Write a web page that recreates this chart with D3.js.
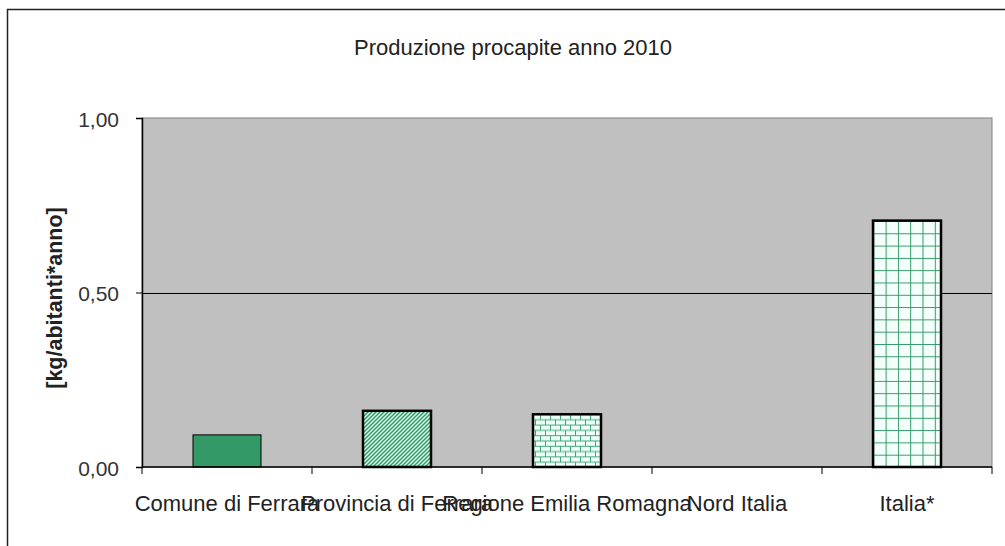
<!DOCTYPE html>
<html>
<head>
<meta charset="utf-8">
<script src="https://cdn.jsdelivr.net/npm/d3@7"></script>
<style>
  body { margin: 0; background: #fff; }
  svg { display: block; font-family: "Liberation Sans", Arial, sans-serif; }
</style>
</head>
<body>
<div id="chart"></div>
<script>
// Chart values
const categories = ["Comune di Ferrara", "Provincia di Ferrara", "Regione Emilia Romagna", "Nord Italia", "Italia*"];
const values = [0.092, 0.161, 0.151, null, 0.706];
const yTicks = [0, 0.5, 1];
const titleText = "Produzione procapite anno 2010";
const yLabel = "[kg/abitanti*anno]";

const W = 1005, H = 546;
const plot = { left: 142, right: 992, top: 118, bottom: 467 };
const green = "#339966";

const svg = d3.select("#chart").append("svg")
  .attr("width", W)
  .attr("height", H);

// Fill patterns for the bars
const defs = svg.append("defs");

const diag = defs.append("pattern")
  .attr("id", "diag")
  .attr("patternUnits", "userSpaceOnUse")
  .attr("width", 4).attr("height", 4);
diag.append("rect").attr("width", 4).attr("height", 4).attr("fill", "#dcfff0");
diag.append("path")
  .attr("d", "M-1,1L1,-1M0,4L4,0M3,5L5,3")
  .attr("stroke", green).attr("stroke-width", 1.5);

const brick = defs.append("pattern")
  .attr("id", "brick")
  .attr("patternUnits", "userSpaceOnUse")
  .attr("width", 10).attr("height", 10.6)
  .attr("y", plot.bottom);
brick.append("rect").attr("width", 10).attr("height", 10.6).attr("fill", "#eefff7");
brick.append("path")
  .attr("d", "M0,0.5H10M0,5.8H10M0.5,0V5.3M5.5,5.3V10.6")
  .attr("stroke", "#3fa577").attr("stroke-width", 1).attr("fill", "none");

const grid = defs.append("pattern")
  .attr("id", "grid")
  .attr("patternUnits", "userSpaceOnUse")
  .attr("width", 12.3).attr("height", 12.3)
  .attr("y", plot.bottom);
grid.append("rect").attr("width", 12.3).attr("height", 12.3).attr("fill", "#f4fffb");
grid.append("path")
  .attr("d", "M0,0.5H12.3M0.5,0V12.3")
  .attr("stroke", green).attr("stroke-width", 1).attr("fill", "none");

const barStyles = [
  { fill: green, width: 1 },
  { fill: "url(#diag)", width: 2.5 },
  { fill: "url(#brick)", width: 2.5 },
  { fill: green, width: 1 },
  { fill: "url(#grid)", width: 2.5 }
];

// Outer chart border
svg.append("rect")
  .attr("x", 7.5).attr("y", 9.5)
  .attr("width", 1200).attr("height", 800)
  .attr("fill", "none")
  .attr("stroke", "#222")
  .attr("stroke-width", 1.5);

// Scales
const x = d3.scaleBand().domain(categories).range([plot.left, plot.right]).padding(0);
const y = d3.scaleLinear().domain([0, 1]).range([plot.bottom, plot.top]);

const locale = d3.formatLocale({ decimal: ",", thousands: ".", grouping: [3], currency: ["", "€"] });
const fmt = locale.format(".2f");

// Plot area
svg.append("rect")
  .attr("x", plot.left).attr("y", plot.top)
  .attr("width", plot.right - plot.left)
  .attr("height", plot.bottom - plot.top)
  .attr("fill", "#c0c0c0")
  .attr("stroke", "#808080")
  .attr("stroke-width", 1);

// Gridlines
svg.append("g")
  .selectAll("line")
  .data(yTicks.filter(d => d > 0 && d < 1))
  .join("line")
  .attr("x1", plot.left).attr("x2", plot.right)
  .attr("y1", d => Math.round(y(d)) + 0.5).attr("y2", d => Math.round(y(d)) + 0.5)
  .attr("stroke", "#000")
  .attr("stroke-width", 1);

// Bars
const barW = x.bandwidth() / 2.5;
svg.append("g")
  .selectAll("rect")
  .data(categories.map((c, i) => ({ c, v: values[i], i })).filter(d => d.v != null))
  .join("rect")
  .attr("x", d => x(d.c) + (x.bandwidth() - barW) / 2)
  .attr("y", d => y(d.v))
  .attr("width", barW)
  .attr("height", d => y(0) - y(d.v))
  .attr("fill", d => barStyles[d.i].fill)
  .attr("stroke", "#000")
  .attr("stroke-width", d => barStyles[d.i].width);

// Y axis
const yAxis = svg.append("g")
  .attr("transform", `translate(${plot.left},0)`)
  .call(d3.axisLeft(y).tickValues(yTicks).tickFormat(fmt).tickSize(6).tickPadding(17));
yAxis.select(".domain").attr("stroke", "#000").attr("stroke-width", 1.5);
yAxis.selectAll(".tick line").attr("stroke", "#000");
yAxis.selectAll(".tick text")
  .attr("font-size", 21)
  .attr("font-family", "Liberation Sans, Arial, sans-serif")
  .attr("fill", "#333")
  .attr("dy", "0.4em");

// X axis: ticks between categories
const xAxis = svg.append("g")
  .attr("transform", `translate(0,${plot.bottom})`);
xAxis.append("line")
  .attr("x1", plot.left).attr("x2", plot.right)
  .attr("stroke", "#000").attr("stroke-width", 1.5);
xAxis.selectAll(".sep")
  .data(categories.map(c => x(c)).concat([plot.right]))
  .join("line")
  .attr("class", "sep")
  .attr("x1", d => d).attr("x2", d => d)
  .attr("y1", 0).attr("y2", 7)
  .attr("stroke", "#000");
xAxis.selectAll(".lbl")
  .data(categories)
  .join("text")
  .attr("class", "lbl")
  .attr("x", d => x(d) + x.bandwidth() / 2)
  .attr("y", 44)
  .attr("text-anchor", "middle")
  .attr("font-size", 22)
  .attr("fill", "#222")
  .text(d => d);

// Title
svg.append("text")
  .attr("x", 513)
  .attr("y", 55)
  .attr("text-anchor", "middle")
  .attr("font-size", 22)
  .attr("fill", "#222")
  .text(titleText);

// Y label
svg.append("text")
  .attr("transform", "translate(62,298) rotate(-90)")
  .attr("text-anchor", "middle")
  .attr("font-size", 21.5)
  .attr("font-weight", "bold")
  .attr("fill", "#222")
  .text(yLabel);
</script>
</body>
</html>
